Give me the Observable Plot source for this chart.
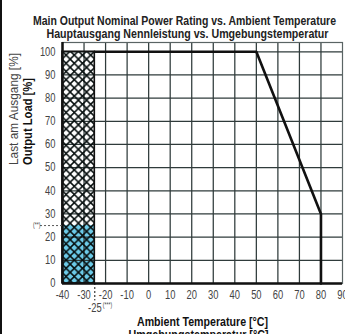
<!DOCTYPE html>
<html>
<head>
<meta charset="utf-8">
<script src="https://cdn.jsdelivr.net/npm/d3@7"></script>
<script src="https://cdn.jsdelivr.net/npm/@observablehq/plot@0.6"></script>
<style>
  body { margin: 0; background: #fff; }
  #wrap { position: relative; width: 345px; height: 334px; overflow: hidden; }
  #edge { position: absolute; left: 0; top: 0; width: 2px; height: 334px; background: #111; }
  svg { font-family: "Liberation Sans", Arial, sans-serif; }
</style>
</head>
<body>
<div id="wrap"><div id="edge"></div></div>
<script>
// Data
const titleLines = ["Main Output Nominal Power Rating vs. Ambient Temperature", "Hauptausgang Nennleistung vs. Umgebungstemperatur"];
const xLabelLines = ["Ambient Temperature [°C]", "Umgebungstemperatur [°C]"];
const yLabelLines = ["Last am Ausgang [%]", "Output Load [%]"];
const xTicks = [-40, -30, -20, -10, 0, 10, 20, 30, 40, 50, 60, 70, 80, 90];
const yTicks = [0, 10, 20, 30, 40, 50, 60, 70, 80, 90, 100];
const deratingTemp = [-25, 50, 80, 80];
const deratingLoad = [100, 100, 30, 0];
const coldZone = {t1: -40, t2: -25, load: 100, reducedLoad: 25};
const coldNoteTemp = "-25";
const coldNoteMark = "(***)";
const loadNoteMark = "(**)";

const curve = deratingTemp.map((t, i) => ({t, load: deratingLoad[i]}));
const ink = "#111";
const gridColor = "#2f3b3b";

const chart = Plot.plot({
  width: 345,
  height: 334,
  marginLeft: 62,
  marginRight: 3,
  marginTop: 42,
  marginBottom: 51,
  x: {domain: [-40, 90]},
  y: {domain: [0, 104]},
  style: {background: "transparent", overflow: "visible"},
  marks: [
    Plot.rect([coldZone], {x1: "t1", x2: "t2", y1: 0, y2: "reducedLoad", fill: "#6ccbe9"}),
    Plot.ruleX(xTicks.slice(1, -1), {stroke: gridColor, strokeWidth: 1.25}),
    Plot.ruleY(yTicks.slice(1), {stroke: gridColor, strokeWidth: 1.25}),
    Plot.frame({stroke: "#5a6464", strokeWidth: 1.2}),
    Plot.rect([coldZone], {x1: "t1", x2: "t2", y1: 0, y2: "load", fill: "url(#xhatch)", stroke: ink, strokeWidth: 1.6}),
    Plot.ruleX([-40], {stroke: ink, strokeWidth: 2.5}),
    Plot.ruleY([0], {stroke: ink, strokeWidth: 2.5}),
    Plot.line(curve, {x: "t", y: "load", stroke: ink, strokeWidth: 2.6}),
    Plot.ruleX([coldZone.t2], {y1: 0, y2: -7.5, stroke: ink, strokeWidth: 1, strokeDasharray: "2,2"}),
    Plot.ruleY([coldZone.reducedLoad], {x1: -50.2, x2: -40, stroke: "#555", strokeWidth: 1, strokeDasharray: "2,2"}),
    Plot.text([coldNoteTemp], {x: coldZone.t2, y: 0, dy: 25, text: d => d, fontSize: 12, fill: "#444", textAnchor: "middle"}),
    Plot.text([coldNoteMark], {x: coldZone.t2, y: 0, dy: 21, dx: 8, text: d => d, fontSize: 6.5, fill: "#444", textAnchor: "start"}),
    Plot.text([loadNoteMark], {x: -50.3, y: coldZone.reducedLoad, dy: -1, text: d => d, fontSize: 6.5, fill: "#444", textAnchor: "end"}),
    Plot.axisX(xTicks, {tickSize: 0, tickPadding: 7, fontSize: 12, fill: "#444", tickFormat: d => String(d), label: null}),
    Plot.axisY(yTicks, {tickSize: 0, tickPadding: 7, fontSize: 12, fill: "#444", tickFormat: d => String(d), label: null}),
    Plot.text([titleLines[0]], {frameAnchor: "top", lineAnchor: "bottom", dx: -18, dy: -18, fontSize: 13, fontWeight: "bold", fill: "#222"}),
    Plot.text([titleLines[1]], {frameAnchor: "top", lineAnchor: "bottom", dx: -15, dy: -5, fontSize: 13, fontWeight: "bold", fill: "#222"}),
    Plot.text([xLabelLines[0]], {frameAnchor: "bottom", lineAnchor: "bottom", dx: 0, dy: 42, fontSize: 13, fontWeight: "bold", fill: "#111"}),
    Plot.text([xLabelLines[1]], {frameAnchor: "bottom", lineAnchor: "bottom", dx: -4, dy: 55, fontSize: 13, fontWeight: "bold", fill: "#111"}),
    Plot.text([yLabelLines[0]], {frameAnchor: "left", rotate: -90, dx: -49, dy: 2, fontSize: 12.5, fill: "#444"}),
    Plot.text([yLabelLines[1]], {frameAnchor: "left", rotate: -90, dx: -35, dy: 2, fontSize: 12.5, fontWeight: "bold", fill: "#111"})
  ]
});

// hatch pattern definition
const ns = "http://www.w3.org/2000/svg";
const defs = document.createElementNS(ns, "defs");
const pat = document.createElementNS(ns, "pattern");
pat.setAttribute("id", "xhatch");
pat.setAttribute("patternUnits", "userSpaceOnUse");
pat.setAttribute("x", "62");
pat.setAttribute("y", "51");
pat.setAttribute("width", "8.2");
pat.setAttribute("height", "8.2");
const p = document.createElementNS(ns, "path");
p.setAttribute("d", "M-1,-1L9.2,9.2M9.2,-1L-1,9.2");
p.setAttribute("stroke", "#050d0d");
p.setAttribute("stroke-width", "1.5");
p.setAttribute("fill", "none");
pat.appendChild(p);
defs.appendChild(pat);
chart.insertBefore(defs, chart.firstChild);

document.getElementById("wrap").appendChild(chart);

// condense text to mimic the narrow typeface of the reference
const targetWidths = new Map([
  [titleLines[0], 303],
  [titleLines[1], 282],
  [xLabelLines[0], 131],
  [xLabelLines[1], 140],
  [yLabelLines[0], 112],
  [yLabelLines[1], 87]
]);
chart.querySelectorAll("text").forEach(t => {
  if (t.querySelector("tspan")) return;
  const s = t.textContent;
  const w = t.getComputedTextLength();
  if (!w) return;
  const target = targetWidths.has(s) ? targetWidths.get(s) : w * 0.78;
  t.setAttribute("textLength", target);
  t.setAttribute("lengthAdjust", "spacingAndGlyphs");
});
</script>
</body>
</html>
